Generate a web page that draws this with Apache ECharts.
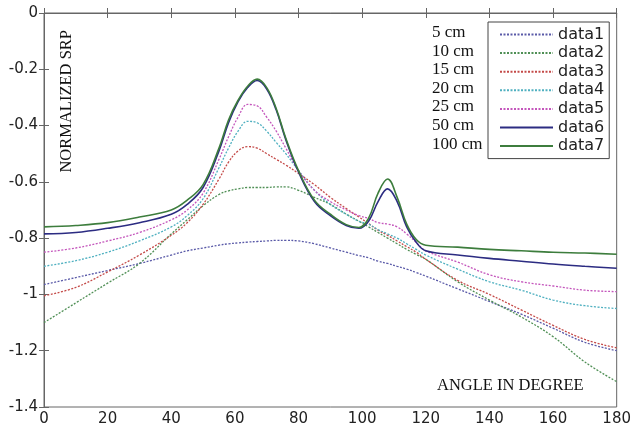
<!DOCTYPE html>
<html>
<head>
<meta charset="utf-8">
<script src="https://cdn.jsdelivr.net/npm/echarts@6/dist/echarts.min.js"></script>
<style>
html,body{margin:0;padding:0;background:#fff;}
#chart{width:634px;height:429px;}
</style>
</head>
<body>
<div id="chart"></div>
<script>
// ---- data ----
const angles = [0,10,20,30,40,45,50,55,58,61,64,67,70,73,76,80,85,90,95,99,102,105,108,111,114,117,120,130,140,150,160,170,180];
const seriesNames = ['data1','data2','data3','data4','data5','data6','data7'];
const distanceLabels = ['5 cm','10 cm','15 cm','20 cm','25 cm','50 cm','100 cm'];
const data1 = [-0.965,-0.94,-0.915,-0.89,-0.86,-0.845,-0.835,-0.825,-0.82,-0.817,-0.814,-0.812,-0.81,-0.808,-0.808,-0.81,-0.82,-0.835,-0.85,-0.862,-0.87,-0.882,-0.89,-0.9,-0.91,-0.922,-0.935,-0.98,-1.025,-1.07,-1.12,-1.17,-1.2];
const data2 = [-1.1,-1.03,-0.96,-0.89,-0.785,-0.735,-0.685,-0.645,-0.632,-0.625,-0.62,-0.62,-0.62,-0.618,-0.618,-0.63,-0.655,-0.68,-0.715,-0.74,-0.76,-0.78,-0.8,-0.82,-0.84,-0.858,-0.875,-0.955,-1.02,-1.08,-1.15,-1.24,-1.31];
const data3 = [-1.005,-0.975,-0.92,-0.86,-0.79,-0.745,-0.68,-0.59,-0.53,-0.49,-0.475,-0.48,-0.5,-0.52,-0.54,-0.57,-0.61,-0.655,-0.695,-0.725,-0.748,-0.772,-0.79,-0.81,-0.83,-0.85,-0.875,-0.95,-1.0,-1.055,-1.11,-1.16,-1.19];
const data4 = [-0.9,-0.88,-0.85,-0.81,-0.76,-0.72,-0.66,-0.55,-0.48,-0.42,-0.385,-0.39,-0.42,-0.46,-0.5,-0.56,-0.63,-0.68,-0.715,-0.74,-0.75,-0.77,-0.785,-0.8,-0.82,-0.84,-0.86,-0.91,-0.955,-0.985,-1.02,-1.04,-1.05];
const data5 = [-0.85,-0.835,-0.81,-0.78,-0.735,-0.7,-0.64,-0.52,-0.44,-0.37,-0.325,-0.33,-0.37,-0.42,-0.48,-0.56,-0.63,-0.67,-0.7,-0.72,-0.73,-0.745,-0.75,-0.76,-0.785,-0.815,-0.845,-0.885,-0.93,-0.955,-0.97,-0.985,-0.99];
const data6 = [-0.785,-0.78,-0.765,-0.745,-0.715,-0.68,-0.62,-0.49,-0.39,-0.315,-0.265,-0.24,-0.27,-0.345,-0.45,-0.565,-0.67,-0.72,-0.755,-0.765,-0.74,-0.67,-0.625,-0.67,-0.76,-0.815,-0.845,-0.86,-0.872,-0.882,-0.892,-0.9,-0.907];
const data7 = [-0.76,-0.755,-0.745,-0.725,-0.7,-0.665,-0.61,-0.48,-0.38,-0.31,-0.26,-0.235,-0.265,-0.34,-0.445,-0.56,-0.665,-0.715,-0.752,-0.762,-0.73,-0.64,-0.59,-0.655,-0.75,-0.805,-0.825,-0.832,-0.84,-0.845,-0.85,-0.853,-0.857];
const allValues = [data1,data2,data3,data4,data5,data6,data7];
const xTicks = {min:0, max:180, interval:20};
const yTicks = {min:-1.4, max:0, interval:0.2};

// ---- styles ----
const colors = ['#5a5aa8','#4f8f55','#c44a48','#4fb0c0','#c456bc','#2c2c82','#3d7d3d'];
const dashed = [true,true,true,true,true,false,false];

const chart = echarts.init(document.getElementById('chart'), null, {renderer:'canvas'});
const axisColor = '#666';
const sans = 'DejaVu Sans';
const serif = 'Liberation Serif';

const series = seriesNames.map((name,i)=>({
  name: name,
  type: 'line',
  data: angles.map((a,k)=>[a, allValues[i][k]]),
  symbol: 'none',
  smooth: 0.4,
  lineStyle: {color: colors[i], width: dashed[i] ? 1.3 : 1.6, type: dashed[i] ? [2,1.5] : 'solid'},
  itemStyle: {color: colors[i]},
  z: dashed[i] ? 2 : 3
}));

const graphicTexts = distanceLabels.map((t,i)=>({
  type:'text', left: 432, top: 24 + i*18.6,
  style:{text:t, font:'17px "'+serif+'"', fill:'#111'}
}));
graphicTexts.push({
  type:'text', left: 58, top: 30, rotation: Math.PI/2,
  style:{text:'NORMALIZED SRP', font:'16.5px "'+serif+'"', fill:'#111'}
});
graphicTexts.push({
  type:'text', left: 437, top: 377,
  style:{text:'ANGLE IN DEGREE', font:'16.5px "'+serif+'"', fill:'#111'}
});

const option = {
  animation: false,
  backgroundColor: '#fff',
  grid: {left:44, right:14, top:13, bottom:22, show:true, borderColor:axisColor, borderWidth:1},
  legend: {
    orient:'vertical', left:488, top:22, data: seriesNames,
    itemWidth:53, itemHeight:12, itemGap:1.6,
    padding:[4,5,4,11],
    borderColor:'#444', borderWidth:1, backgroundColor:'#fff',
    itemStyle:{opacity:0},
    textStyle:{fontFamily:sans, fontSize:16, color:'#222', lineHeight:17}
  },
  xAxis: [{
    type:'value', min:xTicks.min, max:xTicks.max, interval:xTicks.interval,
    axisLine:{show:true, lineStyle:{color:axisColor}},
    axisTick:{show:true, inside:true, length:5, lineStyle:{color:axisColor}},
    axisLabel:{fontFamily:sans, fontSize:15, color:'#222', margin:5},
    splitLine:{show:false}
  },{
    type:'value', position:'top', min:xTicks.min, max:xTicks.max, interval:xTicks.interval,
    axisLine:{show:true, lineStyle:{color:axisColor}},
    axisTick:{show:true, inside:true, length:5, lineStyle:{color:axisColor}},
    axisLabel:{show:false}, splitLine:{show:false}
  }],
  yAxis: [{
    type:'value', min:yTicks.min, max:yTicks.max, interval:yTicks.interval,
    axisLine:{show:true, lineStyle:{color:axisColor}},
    axisTick:{show:true, inside:true, length:5, lineStyle:{color:axisColor}},
    axisLabel:{fontFamily:sans, fontSize:15, color:'#222', margin:6,
      formatter: v => String(Math.round(v*10)/10)},
    splitLine:{show:false}
  },{
    type:'value', position:'right', min:yTicks.min, max:yTicks.max, interval:yTicks.interval,
    axisLine:{show:true, lineStyle:{color:axisColor}},
    axisTick:{show:true, inside:true, length:5, lineStyle:{color:axisColor}},
    axisLabel:{show:false}, splitLine:{show:false}
  }],
  series: series,
  graphic: graphicTexts
};
chart.setOption(option);
</script>
</body>
</html>
